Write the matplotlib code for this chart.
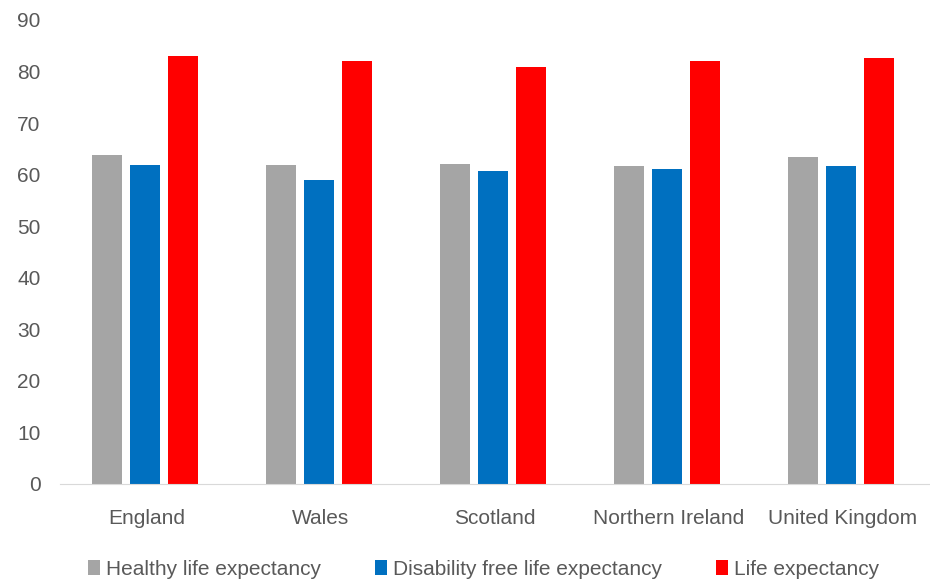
import matplotlib
matplotlib.use("Agg")
import matplotlib.pyplot as plt
import numpy as np

categories = ["England", "Wales", "Scotland", "Northern Ireland", "United Kingdom"]
healthy = [63.8, 61.9, 62.1, 61.6, 63.4]
disability_free = [61.9, 59.0, 60.6, 61.0, 61.6]
life_exp = [83.0, 82.1, 80.9, 82.1, 82.7]
series_names = ["Healthy life expectancy", "Disability free life expectancy", "Life expectancy"]
colors = ["#a5a5a5", "#0070c0", "#ff0000"]

plt.rcParams['font.family'] = ['Liberation Sans', 'DejaVu Sans']
big = 15

fig = plt.figure(figsize=(9.3, 5.85), dpi=100)
ax = fig.add_axes([0.0645, 0.1727, 0.9355, 0.7933])

x = np.arange(len(categories))
w = 0.172
off = 0.218
for i, (vals, name, c) in enumerate(zip([healthy, disability_free, life_exp], series_names, colors)):
    ax.bar(x + (i - 1) * off - 0.01, vals, width=w, color=c, label=name)

ax.set_xlim(-0.5, len(categories) - 0.5)
ax.set_ylim(0, 90)
ax.set_yticks(range(0, 91, 10))
for s in ["top", "right", "left"]:
    ax.spines[s].set_visible(False)
ax.spines["bottom"].set_color("#d9d9d9")
ax.tick_params(axis="both", length=0, colors="#595959", labelsize=big)
ax.tick_params(axis="y", pad=14)
ax.tick_params(axis="x", pad=18)
ax.set_xticks(x)
ax.set_xticklabels(categories)

handles, labels = ax.get_legend_handles_labels()
fig.legend(handles, labels, loc="lower center", bbox_to_anchor=(0.52, -0.022), ncol=3,
           frameon=False, fontsize=big, handlelength=0.55, handleheight=0.75,
           handletextpad=0.3, columnspacing=2.6, labelcolor="#595959")

fig.savefig("out.png", dpi=100)
